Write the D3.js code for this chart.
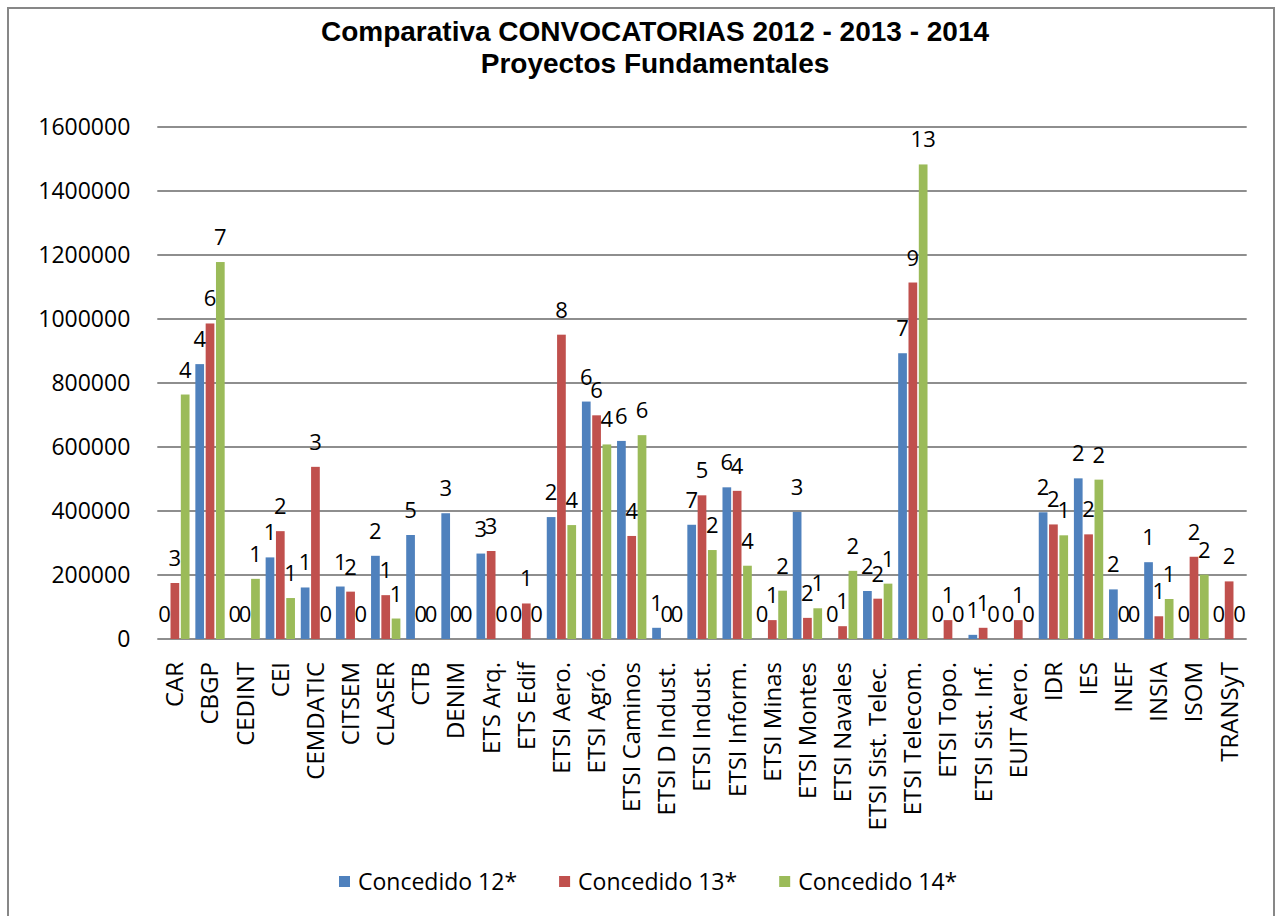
<!DOCTYPE html>
<html>
<head>
<meta charset="utf-8">
<script src="https://cdn.jsdelivr.net/npm/d3@7/dist/d3.min.js"></script>
<style>
  html, body { margin: 0; padding: 0; background: #fff; }
  svg { display: block; }
</style>
</head>
<body>
<svg id="chart" width="1277" height="916"></svg>
<script>
const categories = ["CAR","CBGP","CEDINT","CEI","CEMDATIC","CITSEM","CLASER","CTB","DENIM","ETS Arq.","ETS Edif","ETSI Aero.","ETSI Agró.","ETSI Caminos","ETSI D Indust.","ETSI Indust.","ETSI Inform.","ETSI Minas","ETSI Montes","ETSI Navales","ETSI Sist. Telec.","ETSI Telecom.","ETSI Topo.","ETSI Sist. Inf.","EUIT Aero.","IDR","IES","INEF","INSIA","ISOM","TRANSyT"];
const seriesNames = ["Concedido 12*","Concedido 13*","Concedido 14*"];
const values12 = [0,859000,0,255000,161000,164000,260000,325000,393000,267000,0,381000,742000,619000,35000,357000,474000,0,397000,0,150000,893000,0,13000,0,396000,502000,155000,240000,0,0];
const values13 = [175000,986000,0,337000,538000,148000,137000,0,0,275000,111000,951000,699000,322000,0,449000,463000,59000,66000,40000,126000,1114000,59000,35000,59000,358000,327000,0,71000,257000,180000];
const values14 = [764000,1178000,188000,128000,0,0,64000,0,0,0,0,356000,608000,637000,0,278000,229000,151000,96000,213000,173000,1483000,0,0,0,324000,498000,0,125000,201000,0];
const counts12 = [0,4,0,1,1,1,2,5,3,3,0,2,6,6,1,7,6,0,3,0,2,7,0,1,0,2,2,2,1,0,0];
const counts13 = [3,6,0,2,3,2,1,0,0,3,1,8,6,4,0,5,4,1,2,1,2,9,1,1,1,2,2,0,1,2,2];
const counts14 = [4,7,1,1,0,0,1,0,0,0,0,4,4,6,0,2,4,2,1,2,1,13,0,0,0,1,2,0,1,2,0];
const yTicks = [0,200000,400000,600000,800000,1000000,1200000,1400000,1600000];
const titleLines = ["Comparativa CONVOCATORIAS 2012 - 2013 - 2014","Proyectos Fundamentales"];
const colors = ["#4F81BD","#C0504D","#9BBB59"];

(function () {
const valuesAll = [values12, values13, values14];
const countsAll = [counts12, counts13, counts14];

const svg = d3.select("#chart");
const FONT = "'Open Sans', 'Noto Sans', sans-serif";

// frame
svg.append("rect").attr("x", 8).attr("y", 8).attr("width", 1266).attr("height", 920)
  .attr("fill", "#fff").attr("stroke", "#878787").attr("stroke-width", 2);

// title
svg.append("g").selectAll("text").data(titleLines).join("text")
  .attr("x", 655).attr("y", (d, i) => 41 + i * 32)
  .attr("text-anchor", "middle")
  .attr("font-family", "'Liberation Sans', Arial, sans-serif")
  .attr("font-weight", "bold").attr("font-size", 28).attr("fill", "#000")
  .text(d => d);

const pLeft = 157.3, pRight = 1246.7, pTop = 127, pBottom = 639;

const y = d3.scaleLinear().domain([0, 1600000]).range([pBottom, pTop]);
const x0 = d3.scaleBand().domain(categories).range([pLeft, pRight]).paddingInner(0.12).paddingOuter(0.06);
const x1 = d3.scaleBand().domain([0, 1, 2]).range([0, x0.bandwidth()]);

// gridlines
svg.append("g").selectAll("line").data(yTicks).join("line")
  .attr("x1", pLeft).attr("x2", pRight)
  .attr("y1", d => y(d)).attr("y2", d => y(d))
  .attr("stroke", "#8e8e8e").attr("stroke-width", 2);

// y tick labels
const yAxis = d3.axisLeft(y).tickValues(yTicks).tickFormat(d3.format("d")).tickSize(0).tickPadding(27);
const gy = svg.append("g").attr("transform", `translate(${pLeft},0)`).call(yAxis);
gy.select(".domain").remove();
gy.selectAll("text").attr("font-family", FONT).attr("font-size", 23).attr("fill", "#000");

// bars
const groups = svg.append("g").selectAll("g").data(categories).join("g")
  .attr("transform", d => `translate(${x0(d)},0)`);

groups.selectAll("rect").data((d, i) => [0, 1, 2].map(s => ({ s, v: valuesAll[s][i] }))).join("rect")
  .attr("x", d => x1(d.s) + 0.8)
  .attr("width", x1.bandwidth() - 1.6)
  .attr("y", d => y(d.v))
  .attr("height", d => y(0) - y(d.v))
  .attr("fill", d => colors[d.s]);

// data labels
groups.selectAll("text").data((d, i) => [0, 1, 2].map(s => ({ s, v: valuesAll[s][i], c: countsAll[s][i] }))).join("text")
  .attr("x", d => x1(d.s) + x1.bandwidth() / 2)
  .attr("y", d => y(d.v) - 17)
  .attr("text-anchor", "middle")
  .attr("font-family", FONT).attr("font-size", 22).attr("fill", "#000")
  .text(d => d.c);

// x axis labels
const xAxis = d3.axisBottom(x0).tickSize(0).tickPadding(0);
const gx = svg.append("g").attr("transform", `translate(0,${pBottom})`).call(xAxis);
gx.select(".domain").remove();
gx.selectAll("text")
  .attr("font-family", FONT).attr("font-size", 24).attr("fill", "#000")
  .attr("text-anchor", "end")
  .attr("transform", "translate(0,23) rotate(-90)")
  .attr("x", 0).attr("y", 0).attr("dy", "0.35em");

// legend
const legend = svg.append("g").attr("transform", "translate(0,882)");
let lx = 339;
seriesNames.forEach((name, i) => {
  legend.append("rect").attr("x", lx).attr("y", -6).attr("width", 11).attr("height", 11).attr("fill", colors[i]);
  const t = legend.append("text").attr("x", lx + 19).attr("y", 0).attr("dy", "0.35em")
    .attr("font-family", FONT).attr("font-size", 23).attr("fill", "#000").text(name);
  lx += 19 + t.node().getComputedTextLength() + 42;
});
})();
</script>
</body>
</html>
